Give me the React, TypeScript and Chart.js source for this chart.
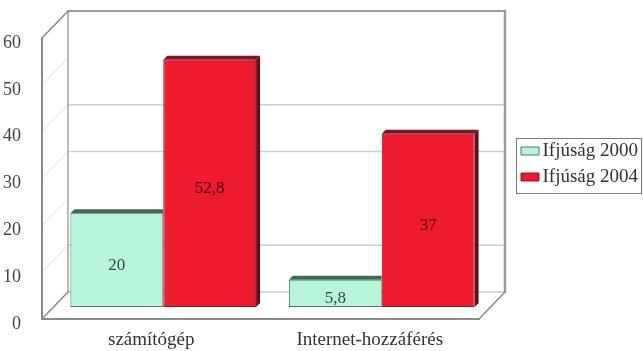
import React, { useEffect, useRef } from 'react';
import { Chart, registerables } from 'chart.js';

Chart.register(...registerables);

// Data
const categories = ['számítógép', 'Internet-hozzáférés'];
const seriesNames = ['Ifjúság 2000', 'Ifjúság 2004'];
const youth2000 = [20, 5.8];
const youth2004 = [52.8, 37];
const yTicks = [0, 10, 20, 30, 40, 50, 60];
const backWallLines = [0, 10, 30, 40];

// Styling
const SERIF = '"Liberation Serif", "Times New Roman", Times, serif';
const faceColors = ['#b6f5da', '#ee1b2e'];
const edgeColors = ['#4d7a63', '#8c1a24'];
const topColors = ['#3f6b55', '#7e1620'];
const sideColors = ['#3f6b55', '#651018'];

const WALL_DX = 26;
const WALL_DY = 27;
const BAR_DX = 12;
const BAR_DY = 12;
const EXTRUDE = 4;

const legendFrame = { left: 516, top: 138, right: 642, bottom: 193 };

const fmt = (v: number) => String(v).replace('.', ',');

const line = (ctx: CanvasRenderingContext2D, x1: number, y1: number, x2: number, y2: number) => {
  ctx.beginPath();
  ctx.moveTo(x1, y1);
  ctx.lineTo(x2, y2);
  ctx.stroke();
};

const box3d = {
  id: 'box3d',
  afterLayout(chart: any) {
    const lg = chart.legend;
    if (!lg) return;
    lg.left = legendFrame.left - 2;
    lg.right = legendFrame.right - 4;
    lg.top = legendFrame.top - 3.5;
    lg.bottom = legendFrame.bottom + 30;
    lg.width = lg.right - lg.left;
    lg.height = lg.bottom - lg.top;
  },
  beforeDatasetsDraw(chart: any) {
    const { ctx, chartArea: a, scales } = chart;
    const y = scales.y;
    const L = a.left, R = a.right, T = a.top, B = a.bottom;
    ctx.save();
    ctx.lineCap = 'square';

    // side wall
    ctx.strokeStyle = '#dedede';
    ctx.lineWidth = 1;
    yTicks.forEach((v) => {
      const py = y.getPixelForValue(v);
      line(ctx, L, py, L + WALL_DX, py - WALL_DY);
    });

    // back wall grid
    ctx.strokeStyle = '#cdcdcd';
    ctx.lineWidth = 1.5;
    backWallLines.forEach((v) => {
      const py = y.getPixelForValue(v) - WALL_DY;
      line(ctx, L + WALL_DX, py, R + WALL_DX, py);
    });

    // back wall outline
    ctx.strokeStyle = '#a3a3a3';
    ctx.lineWidth = 1.5;
    line(ctx, L + WALL_DX, T - WALL_DY, L + WALL_DX, B - WALL_DY);
    ctx.strokeStyle = '#9a9a9a';
    ctx.lineWidth = 2;
    line(ctx, L + WALL_DX, T - WALL_DY, R + WALL_DX, T - WALL_DY);
    ctx.lineWidth = 2.5;
    line(ctx, R + WALL_DX, T - WALL_DY, R + WALL_DX, B - WALL_DY);

    // floor and left edges
    ctx.strokeStyle = '#8a8a8a';
    ctx.lineWidth = 1.5;
    line(ctx, L, T, L + WALL_DX, T - WALL_DY);
    line(ctx, L, B, L + WALL_DX, B - WALL_DY);
    line(ctx, R, B, R + WALL_DX, B - WALL_DY);
    ctx.lineWidth = 2;
    line(ctx, L, B, R, B);
    line(ctx, L, T, L, B);
    ctx.restore();

    // bars sit halfway into the box
    ctx.save();
    ctx.translate(BAR_DX, -BAR_DY);
  },
  afterDatasetsDraw(chart: any) {
    const ctx: CanvasRenderingContext2D = chart.ctx;
    const n = chart.data.datasets.length;
    chart.data.datasets.forEach((ds: any, di: number) => {
      const meta = chart.getDatasetMeta(di);
      const last = di === n - 1;
      meta.data.forEach((bar: any, i: number) => {
        const { x, y, base, width } = bar.getProps(['x', 'y', 'base', 'width'], true);
        const x0 = x - width / 2;
        const x1 = x + width / 2;
        ctx.fillStyle = topColors[di];
        ctx.beginPath();
        ctx.moveTo(x0, y);
        ctx.lineTo(x0 + EXTRUDE, y - EXTRUDE);
        ctx.lineTo(last ? x1 + EXTRUDE : x1, y - EXTRUDE);
        ctx.lineTo(x1, y);
        ctx.closePath();
        ctx.fill();
        if (last) {
          ctx.fillStyle = sideColors[di];
          ctx.beginPath();
          ctx.moveTo(x1, y);
          ctx.lineTo(x1 + EXTRUDE, y - EXTRUDE);
          ctx.lineTo(x1 + EXTRUDE, base - EXTRUDE);
          ctx.lineTo(x1, base);
          ctx.closePath();
          ctx.fill();
        }
        ctx.fillStyle = 'rgba(0,0,0,0.72)';
        ctx.font = `17px ${SERIF}`;
        ctx.textAlign = 'center';
        ctx.textBaseline = 'middle';
        ctx.fillText(fmt(ds.data[i]), x, (y + base) / 2 + 5);
      });
    });
    ctx.restore();
  },
  afterDraw(chart: any) {
    const ctx: CanvasRenderingContext2D = chart.ctx;
    ctx.save();
    ctx.strokeStyle = '#7a7a7a';
    ctx.lineWidth = 1;
    ctx.strokeRect(
      legendFrame.left + 0.5,
      legendFrame.top + 0.5,
      legendFrame.right - legendFrame.left - 1,
      legendFrame.bottom - legendFrame.top
    );
    ctx.restore();
  },
};

export default function App() {
  const ref = useRef<HTMLCanvasElement | null>(null);

  useEffect(() => {
    if (!ref.current) return;
    const chart = new Chart(ref.current, {
      type: 'bar',
      data: {
        labels: categories,
        datasets: [
          {
            label: seriesNames[0],
            data: youth2000,
            backgroundColor: faceColors[0],
            borderColor: edgeColors[0],
            borderWidth: 1,
            borderSkipped: false,
            barPercentage: 1,
            categoryPercentage: 0.85,
          },
          {
            label: seriesNames[1],
            data: youth2004,
            backgroundColor: faceColors[1],
            borderColor: edgeColors[1],
            borderWidth: 1,
            borderSkipped: false,
            barPercentage: 1,
            categoryPercentage: 0.85,
          },
        ],
      },
      options: {
        responsive: false,
        animation: false,
        events: [],
        layout: { padding: { left: 0, right: 164, top: 38, bottom: 0 } },
        scales: {
          x: {
            grid: { display: false },
            border: { display: false },
            ticks: {
              color: '#333',
              font: { family: SERIF, size: 19 },
              padding: 2,
              maxRotation: 0,
            },
            afterFit: (s: any) => {
              s.height = 32;
            },
          },
          y: {
            min: 0,
            max: 60,
            grid: { display: false },
            border: { display: false },
            ticks: {
              stepSize: 10,
              color: '#444',
              font: { family: SERIF, size: 18 },
              padding: 13,
              labelOffset: 5,
            },
            afterFit: (s: any) => {
              s.width = 42;
            },
          },
        },
        plugins: {
          tooltip: { enabled: false },
          legend: {
            position: 'chartArea',
            align: 'start',
            labels: {
              boxWidth: 18,
              boxHeight: 8,
              padding: 7,
              color: '#333',
              textAlign: 'right',
              font: { family: SERIF, size: 19 },
            },
          },
        },
      },
      plugins: [box3d],
    } as any);
    return () => chart.destroy();
  }, []);

  return (
    <div style={{ position: 'fixed', left: 0, top: 0, width: 643, height: 351, background: '#fff' }}>
      <canvas ref={ref} width={643} height={351} style={{ display: 'block' }} />
    </div>
  );
}
